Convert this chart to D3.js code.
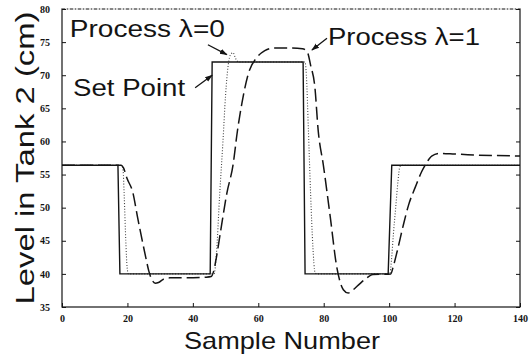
<!DOCTYPE html>
<html>
<head>
<meta charset="utf-8">
<script src="https://d3js.org/d3.v7.min.js"></script>
<style>
  html, body { margin: 0; padding: 0; background: #fff; }
  svg { display: block; }
</style>
</head>
<body>
<svg width="530" height="358"></svg>
<script>
// --- data ---
const xTicks = [0, 20, 40, 60, 80, 100, 120, 140];
const yTicks = [35, 40, 45, 50, 55, 60, 65, 70, 75, 80];

// set point (solid)
const spSample = [0, 17.1, 17.7, 45.3, 45.9, 73.7, 74.3, 99.7, 100.8, 140];
const spLevel  = [56.4, 56.4, 40, 40, 72, 72, 40, 40, 56.4, 56.4];

// process lambda = 0 (dotted)
const p0Sample = [0, 18.3, 18.7, 19.0, 19.5, 19.9, 20.3, 46.5, 47.2, 48.2, 49.2, 50.0, 50.8, 51.6, 52.3, 53.0, 54.0,
  74.3, 74.7, 75.3, 76.0, 76.7, 77.3, 77.8, 100.2, 100.7, 101.3, 102.0, 102.7, 103.3, 104.0, 140];
const p0Level  = [56.4, 56.4, 55.5, 52, 45, 41, 40, 40, 43, 52, 60, 67, 71.5, 73.2, 73.4, 72.6, 72,
  72, 70, 62, 52, 44, 40.3, 40, 40, 42, 46, 50, 54, 56.2, 56.4, 56.4];

// process lambda = 1 (dashed)
const p1Sample = [0, 18.0, 18.8, 19.8, 21.7, 23.0, 24.5, 25.6, 26.5, 27.5, 28.5, 29.5, 31, 33, 38, 44, 45.6, 46.3,
  47.2, 48.5, 50.4, 52.3, 53.6, 55.0, 57.0, 59.6, 62, 64.5, 69.7, 73.5, 75.0, 76.0, 77.3, 78.3, 79.9, 82, 84,
  85, 86, 87.5, 89, 91, 93.2, 95, 100.5, 101.2, 102.5, 104.2, 106, 108, 110, 111.6, 113, 115.6, 120, 124, 140];
const p1Level  = [56.4, 56.4, 56.0, 54.5, 52.2, 48.8, 45.1, 42.5, 40.5, 39.1, 38.6, 38.7, 39.2, 39.4, 39.4, 39.5, 39.6, 40.3,
  42.5, 46.5, 52.2, 56.5, 61.5, 65.8, 70.3, 72.7, 73.7, 74.1, 74.1, 74.0, 73.5, 71.5, 68.2, 61.7, 56.4, 48.6, 41,
  38.8, 37.6, 37.1, 37.6, 38.5, 39.4, 39.9, 40, 41, 43.5, 47.1, 50.5, 53.1, 55.5, 56.9, 57.8, 58.2, 58.1, 58.0, 57.8];

// annotations: label text, label anchor and arrow (data units)
const notes = [
  { text: 'Process \u03bb=0', x: 2.4, y: 75.8, len: 155, from: [44.6, 74.6], to: [50.4, 73.1] },
  { text: 'Set Point',        x: 3.4, y: 66.9, len: 112, from: [40.7, 68.1], to: [45.9, 70.0] },
  { text: 'Process \u03bb=1', x: 81.3, y: 74.6, len: 152, from: [81.0, 75.6], to: [76.4, 73.8] }
];

// --- chart ---
const margin = { left: 62, right: 10, top: 9, bottom: 51 };
const svg = d3.select('svg');
const width = 530 - margin.left - margin.right;
const height = 358 - margin.top - margin.bottom;
const g = svg.append('g').attr('transform', `translate(${margin.left},${margin.top})`);

const x = d3.scaleLinear().domain([0, 140]).range([0, width]);
const y = d3.scaleLinear().domain([35, 80]).range([height, 0]);

const ink = '#141414';

// frame
g.append('rect').attr('width', width).attr('height', height)
  .attr('fill', 'none').attr('stroke', ink).attr('stroke-width', 1.2);
g.append('line').attr('x1', 0).attr('x2', width).attr('y1', 0).attr('y2', 0)
  .attr('stroke', '#fff').attr('stroke-width', 1.4);
g.append('line').attr('x1', 0).attr('x2', width).attr('y1', 0).attr('y2', 0)
  .attr('stroke', '#333').attr('stroke-width', 1).attr('stroke-dasharray', '3,2,1,2');

// axes (ticks inward)
const tickFont = g => g.selectAll('text')
  .attr('font-family', '"Liberation Serif", serif').attr('font-weight', 'bold')
  .attr('font-size', 10).attr('fill', ink);

g.append('g').attr('transform', `translate(0,${height})`)
  .call(d3.axisBottom(x).tickValues(xTicks).tickSize(-4).tickPadding(8))
  .call(a => a.select('.domain').remove())
  .call(a => a.selectAll('line').attr('stroke', ink))
  .call(tickFont);

g.append('g')
  .call(d3.axisLeft(y).tickValues(yTicks).tickSize(-4).tickPadding(12))
  .call(a => a.select('.domain').remove())
  .call(a => a.selectAll('line').attr('stroke', ink))
  .call(tickFont);

g.append('g').attr('transform', `translate(${width},0)`)
  .call(d3.axisRight(y).tickValues(yTicks).tickSize(-4).tickFormat(''))
  .call(a => a.select('.domain').remove())
  .call(a => a.selectAll('line').attr('stroke', ink));

// lines
const line = (xs, ys, curve) => d3.line()
  .x((d, i) => x(xs[i])).y((d, i) => y(ys[i])).curve(curve)(xs);

g.append('path').attr('d', line(p0Sample, p0Level, d3.curveMonotoneX))
  .attr('fill', 'none').attr('stroke', '#444').attr('stroke-width', 1.1)
  .attr('stroke-dasharray', '1,1.8');

g.append('path').attr('d', line(p1Sample, p1Level, d3.curveMonotoneX))
  .attr('fill', 'none').attr('stroke', ink).attr('stroke-width', 1.5)
  .attr('stroke-dasharray', '13,5');

g.append('path').attr('d', line(spSample, spLevel, d3.curveLinear))
  .attr('fill', 'none').attr('stroke', ink).attr('stroke-width', 1.4);

// annotations
svg.append('defs').append('marker')
  .attr('id', 'head').attr('viewBox', '0 0 10 10').attr('refX', 9).attr('refY', 5)
  .attr('markerWidth', 6).attr('markerHeight', 6).attr('orient', 'auto')
  .append('path').attr('d', 'M0,1.5L10,5L0,8.5Z').attr('fill', ink);

notes.forEach(n => {
  g.append('text').attr('x', x(n.x)).attr('y', y(n.y))
    .attr('font-family', '"Liberation Sans", Arial, sans-serif').attr('font-size', 23)
    .attr('textLength', n.len).attr('lengthAdjust', 'spacingAndGlyphs')
    .attr('fill', ink).text(n.text);
  g.append('line')
    .attr('x1', x(n.from[0])).attr('y1', y(n.from[1]))
    .attr('x2', x(n.to[0])).attr('y2', y(n.to[1]))
    .attr('stroke', ink).attr('stroke-width', 1.3).attr('marker-end', 'url(#head)');
});

// axis titles
svg.append('text').attr('x', 282).attr('y', 349).attr('text-anchor', 'middle')
  .attr('font-family', '"Liberation Sans", Arial, sans-serif').attr('font-size', 24)
  .attr('textLength', 196).attr('lengthAdjust', 'spacingAndGlyphs')
  .attr('fill', ink).text('Sample Number');

svg.append('text').attr('transform', 'translate(34,158) rotate(-90)').attr('text-anchor', 'middle')
  .attr('font-family', '"Liberation Sans", Arial, sans-serif').attr('font-size', 26)
  .attr('textLength', 293).attr('lengthAdjust', 'spacingAndGlyphs')
  .attr('fill', ink).text('Level in Tank 2 (cm)');
</script>
</body>
</html>
